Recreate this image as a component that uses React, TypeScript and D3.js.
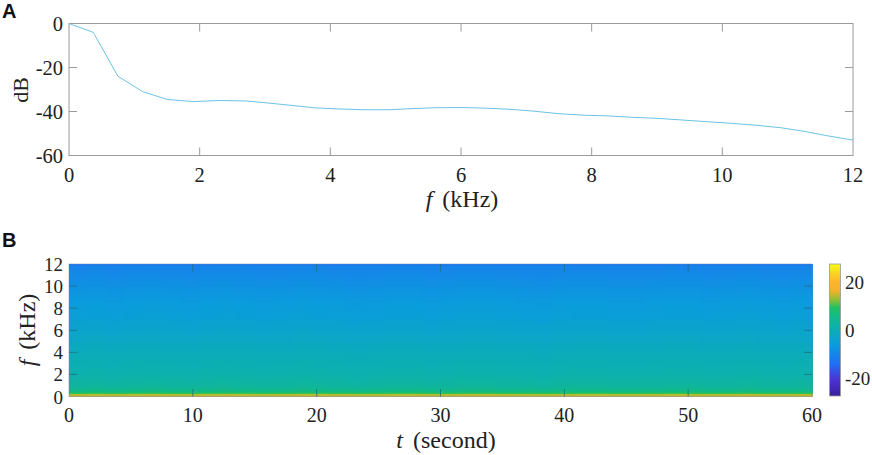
import * as d3 from "d3";
import { useEffect, useRef } from "react";

const W = 872;
const H = 455;

// panel A: spectrum
const freqKHz = [0, 0.37, 0.75, 1.13, 1.5, 1.9, 2.3, 2.7, 3, 3.4, 3.75, 4.1, 4.5, 4.9, 5.25, 5.6, 6, 6.4, 6.75, 7.1, 7.5, 7.9, 8.25, 8.6, 9, 9.4, 9.75, 10.1, 10.5, 10.9, 11.25, 11.6, 12];
const levelDb = [0, -4, -24, -31, -34.5, -35.5, -35, -35.2, -36, -37.2, -38.3, -38.8, -39.2, -39.2, -38.7, -38.3, -38.2, -38.5, -39, -39.8, -41, -41.7, -42, -42.6, -43.1, -43.9, -44.6, -45.3, -46.2, -47.4, -49, -51, -53];
const xTicksA = [0, 2, 4, 6, 8, 10, 12];
const yTicksA = [0, -20, -40, -60];

// panel B: spectrogram, level per frequency band plus a small drift per time slice
const bandKHz = [0, 0.12, 0.24, 0.36, 0.48, 0.6, 0.8, 1, 1.3, 1.6, 2, 2.5, 3, 3.5, 4, 4.5, 5, 5.5, 6, 6.5, 7, 7.5, 8, 8.5, 9, 9.5, 10, 10.5, 11, 11.5, 11.85, 12];
const bandDb = [16.5, 14, 10, 8, 6, 4.6, 3.6, 3, 2.4, 1.8, 1.2, 0.7, 0.2, -0.4, -1, -1.7, -2.4, -3, -3.6, -4.3, -4.9, -5.4, -5.9, -6.4, -7, -7.6, -8.2, -8.9, -9.6, -10.4, -12.5];
const sliceS = [0, 1.5, 3, 4.5, 6, 7.5, 9, 10.5, 12, 13.5, 15, 16.5, 18, 19.5, 21, 22.5, 24, 25.5, 27, 28.5, 30, 31.5, 33, 34.5, 36, 37.5, 39, 40.5, 42, 43.5, 45, 46.5, 48, 49.5, 51, 52.5, 54, 55.5, 57, 58.5, 60];
const sliceDb = [0, 0.1, -0.1, 0.1, 0.2, 0, -0.1, 0.1, 0.2, 0.1, -0.1, 0, 0.2, 0.1, 0, -0.2, -0.1, 0.1, 0.1, -0.1, 0, 0.2, 0.2, 0, -0.1, -0.2, 0, 0.1, 0.1, -0.1, -0.1, 0, 0.1, 0.1, -0.1, 0, 0.2, 0, -0.1, 0];
const xTicksB = [0, 10, 20, 30, 40, 50, 60];
const yTicksB = [0, 2, 4, 6, 8, 10, 12];
const cbarTicks = [20, 0, -20];

const colorDb = [-27.5, -21, -14, -6, 1, 6, 9.3, 12.7, 16.4, 20, 24, 27.5];
const colorHex = ["#3b1f9e", "#4a32d0", "#1f70f5", "#0a9cdc", "#0cb0b0", "#12bb85", "#20c060", "#90bf35", "#f5b02c", "#fdb52c", "#f9d820", "#f9fb15"];

const SERIF = "'Liberation Serif', serif";
const AXIS = "#9a9a9a";
const DARK_TICK = "#1f6f80";
const INK = "#222";

export default function App() {
  const ref = useRef<SVGSVGElement>(null);

  useEffect(() => {
    const svg = d3.select(ref.current);
    svg.selectAll("*").remove();

    const color = d3.scaleLinear<string>().domain(colorDb).range(colorHex).interpolate(d3.interpolateRgb);

    const tickText = (size: number) => (sel: any) => sel.attr("font-family", SERIF).attr("font-size", size).attr("fill", INK);
    const labelText = (sel: any) => sel.attr("font-family", SERIF).attr("font-size", 24).attr("fill", INK);

    // panel A
    const xA = d3.scaleLinear().domain([0, 12]).range([69, 853]);
    const yA = d3.scaleLinear().domain([-60, 0]).range([155.5, 23.5]);

    svg.append("rect")
      .attr("x", 69).attr("y", 23.5).attr("width", 784).attr("height", 132)
      .attr("fill", "none").attr("stroke", AXIS).attr("stroke-width", 1);

    const lineA = d3.line<number>().x((d) => xA(d)).y((_, i) => yA(levelDb[i]));
    svg.append("path")
      .attr("d", lineA(freqKHz))
      .attr("fill", "none").attr("stroke", "#6cc3e6").attr("stroke-width", 1);

    const gA = svg.append("g");
    xTicksA.forEach((t) => {
      if (t > 0 && t < 12) {
        gA.append("line").attr("x1", xA(t)).attr("x2", xA(t)).attr("y1", 155.5).attr("y2", 147.5).attr("stroke", AXIS);
        gA.append("line").attr("x1", xA(t)).attr("x2", xA(t)).attr("y1", 23.5).attr("y2", 31.5).attr("stroke", AXIS);
      }
      gA.append("text").attr("x", xA(t)).attr("y", 181.5).attr("text-anchor", "middle").text(t).call(tickText(20.5));
    });
    yTicksA.forEach((t) => {
      if (t > -60 && t < 0) {
        gA.append("line").attr("x1", 69).attr("x2", 77).attr("y1", yA(t)).attr("y2", yA(t)).attr("stroke", AXIS);
        gA.append("line").attr("x1", 853).attr("x2", 845).attr("y1", yA(t)).attr("y2", yA(t)).attr("stroke", AXIS);
      }
      gA.append("text").attr("x", 63).attr("y", yA(t) + 7).attr("text-anchor", "end").text(t).call(tickText(20.5));
    });
    gA.append("text")
      .attr("transform", "translate(28,90) rotate(-90)")
      .attr("text-anchor", "middle").text("dB").call(labelText).attr("font-size", 22);

    const fLabelA = gA.append("text").attr("x", 462).attr("y", 207).attr("text-anchor", "middle").call(labelText);
    fLabelA.append("tspan").attr("font-style", "italic").text("f");
    fLabelA.append("tspan").attr("dx", 10).text("(kHz)");

    // panel B
    const xB = d3.scaleLinear().domain([0, 60]).range([69, 812]);
    const yB = d3.scaleLinear().domain([0, 12]).range([396.5, 264]);
    const cells = svg.append("g").attr("shape-rendering", "crispEdges");
    sliceS.slice(0, -1).forEach((s, i) => {
      bandKHz.slice(0, -1).forEach((b, j) => {
        const f = bandKHz[j + 1];
        cells.append("rect")
          .attr("x", xB(s))
          .attr("y", yB(f))
          .attr("width", xB(sliceS[i + 1]) - xB(s) + 0.5)
          .attr("height", yB(b) - yB(f) + 0.5)
          .attr("fill", color(bandDb[j] + sliceDb[i]));
      });
    });

    const gB = svg.append("g");
    gB.append("rect")
      .attr("x", 69).attr("y", 264).attr("width", 743).attr("height", 132.5)
      .attr("fill", "none").attr("stroke", "#5b8fa8").attr("stroke-opacity", 0.6).attr("stroke-width", 0.8);
    xTicksB.forEach((t) => {
      if (t > 0 && t < 60) {
        gB.append("line").attr("x1", xB(t)).attr("x2", xB(t)).attr("y1", 396.5).attr("y2", 389).attr("stroke", DARK_TICK).attr("stroke-width", 0.8);
        gB.append("line").attr("x1", xB(t)).attr("x2", xB(t)).attr("y1", 264).attr("y2", 271.5).attr("stroke", DARK_TICK).attr("stroke-width", 0.8);
      }
      gB.append("text").attr("x", xB(t)).attr("y", 422).attr("text-anchor", "middle").text(t).call(tickText(20));
    });
    yTicksB.forEach((t) => {
      if (t > 0 && t < 12) {
        gB.append("line").attr("x1", 69).attr("x2", 77).attr("y1", yB(t)).attr("y2", yB(t)).attr("stroke", DARK_TICK).attr("stroke-width", 0.8);
        gB.append("line").attr("x1", 812).attr("x2", 804).attr("y1", yB(t)).attr("y2", yB(t)).attr("stroke", DARK_TICK).attr("stroke-width", 0.8);
      }
      gB.append("text").attr("x", 63).attr("y", yB(t) + 7).attr("text-anchor", "end").text(t).call(tickText(19));
    });
    const fLabelB = gB.append("text")
      .attr("transform", "translate(35,330) rotate(-90)")
      .attr("text-anchor", "middle").call(labelText);
    fLabelB.append("tspan").attr("font-style", "italic").text("f");
    fLabelB.append("tspan").attr("dx", 10).text("(kHz)");
    const tLabel = gB.append("text").attr("x", 446).attr("y", 448).attr("text-anchor", "middle").call(labelText);
    tLabel.append("tspan").attr("font-style", "italic").text("t");
    tLabel.append("tspan").attr("dx", 10).text("(second)");

    // colour bar
    const yC = d3.scaleLinear().domain([-27.5, 27.5]).range([396, 264]);
    const grad = svg.append("defs").append("linearGradient").attr("id", "cbar").attr("x1", 0).attr("x2", 0).attr("y1", 1).attr("y2", 0);
    colorDb.forEach((d, i) => {
      grad.append("stop").attr("offset", (d + 27.5) / 55).attr("stop-color", colorHex[i]);
    });
    svg.append("rect")
      .attr("x", 829.5).attr("y", 264).attr("width", 11).attr("height", 132)
      .attr("fill", "url(#cbar)").attr("stroke", AXIS).attr("stroke-width", 0.8);
    cbarTicks.forEach((t) => {
      svg.append("text").attr("x", 845).attr("y", yC(t) + 6.5).text(t).call(tickText(19));
    });

    // panel letters
    [["A", 2, 17.5], ["B", 2, 247]].forEach(([s, x, y]) => {
      svg.append("text").attr("x", x as number).attr("y", y as number)
        .attr("font-family", "'Liberation Sans', sans-serif").attr("font-weight", 700).attr("font-size", 20).attr("fill", "#111")
        .text(s as string);
    });
  }, []);

  return (
    <svg
      ref={ref}
      width={W}
      height={H}
      style={{ position: "absolute", left: 0, top: 0, background: "#fff" }}
    />
  );
}
